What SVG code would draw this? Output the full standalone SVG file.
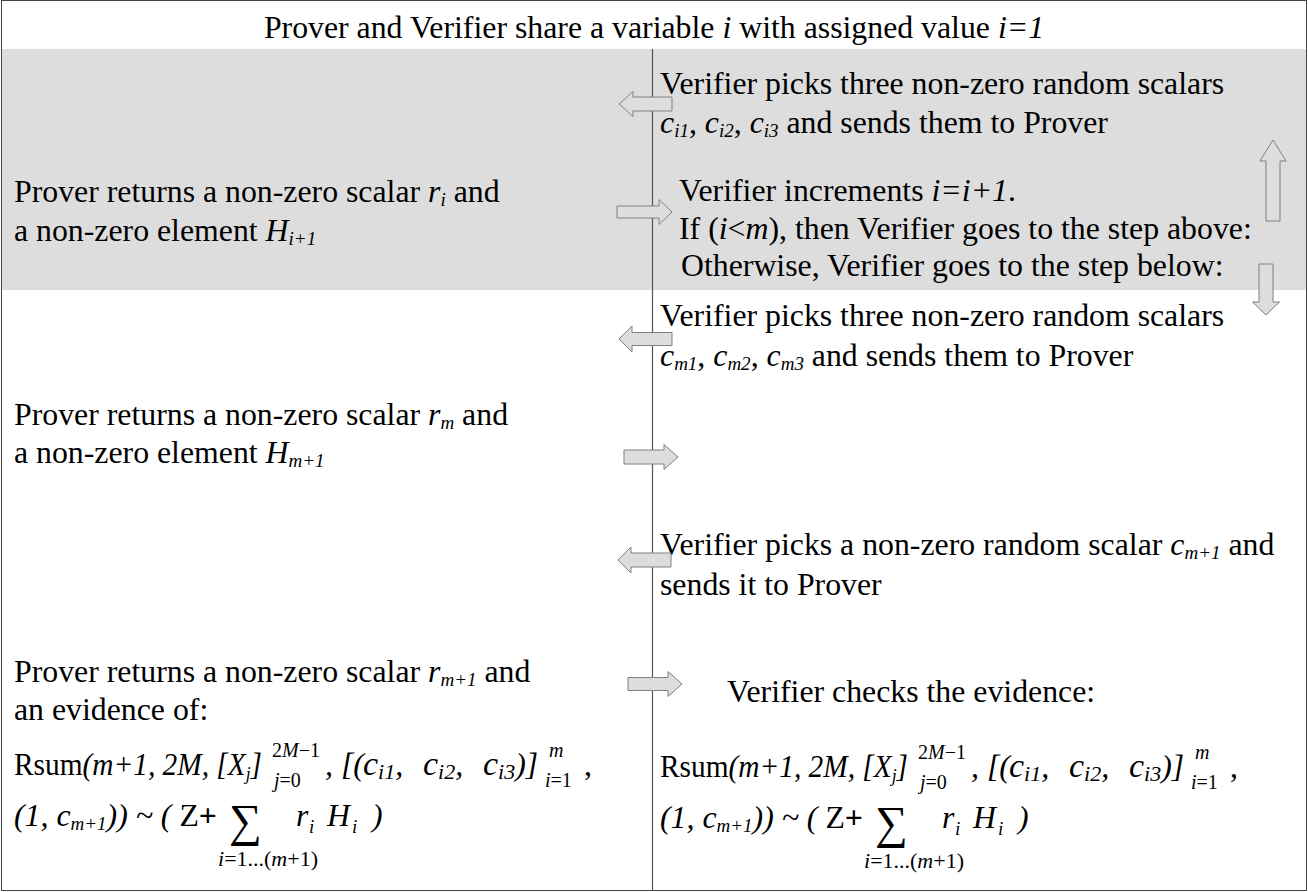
<svg xmlns="http://www.w3.org/2000/svg" width="1308" height="892" viewBox="0 0 1308 892">
<style>
text{font-family:"Liberation Serif","Times New Roman",serif;font-size:31.8px;fill:#000}
.i{font-style:italic}
.s{font-size:19px;font-style:italic}
.m{font-size:20px}
.lim{font-size:22px}
.c{font-size:34px;font-style:italic}
.cs{font-size:22px;font-style:italic}
.big{font-size:46px}
.b{font-weight:bold}
.arr{fill:#dddddd;stroke:#808080;stroke-width:1}
</style>
<rect x="0" y="0" width="1308" height="892" fill="#ffffff"/>
<rect id="band" x="2" y="49" width="1304" height="241" fill="#dddddd"/>
<rect id="frame" x="1.5" y="0.5" width="1305" height="890" fill="none" stroke="#444" stroke-width="1"/>
<line id="divider" x1="652.5" y1="49" x2="652.5" y2="891" stroke="#555" stroke-width="1.2"/>

<g id="header"><text x="654" y="38" text-anchor="middle">Prover and Verifier share a variable <tspan class="i">i</tspan> with assigned value <tspan class="i">i=1</tspan></text></g>

<g id="v1"><text x="660" y="94">Verifier picks three non-zero random scalars</text>
<text x="660" y="133"><tspan class="i">c</tspan><tspan class="s" dy="4">i1</tspan><tspan dy="-4">, </tspan><tspan class="i">c</tspan><tspan class="s" dy="4">i2</tspan><tspan dy="-4">, </tspan><tspan class="i">c</tspan><tspan class="s" dy="4">i3</tspan><tspan dy="-4"> and sends them to Prover</tspan></text></g>

<g id="p1"><text x="14" y="202">Prover returns a non-zero scalar <tspan class="i">r</tspan><tspan class="s" dy="4">i</tspan><tspan dy="-4"> and</tspan></text>
<text x="14" y="241">a non-zero element <tspan class="i">H</tspan><tspan class="s" dy="4">i+1</tspan></text></g>

<g id="v2"><text x="679" y="201">Verifier increments <tspan class="i">i=i+1</tspan>.</text>
<text x="679" y="239">If (<tspan class="i">i</tspan>&lt;<tspan class="i">m</tspan>), then Verifier goes to the step above:</text>
<text x="681" y="276">Otherwise, Verifier goes to the step below:</text></g>

<g id="v3"><text x="660" y="326">Verifier picks three non-zero random scalars</text>
<text x="660" y="366"><tspan class="i">c</tspan><tspan class="s" dy="4">m1</tspan><tspan dy="-4">, </tspan><tspan class="i">c</tspan><tspan class="s" dy="4">m2</tspan><tspan dy="-4">, </tspan><tspan class="i">c</tspan><tspan class="s" dy="4">m3</tspan><tspan dy="-4"> and sends them to Prover</tspan></text></g>

<g id="p2"><text x="14" y="425">Prover returns a non-zero scalar <tspan class="i">r</tspan><tspan class="s" dy="4">m</tspan><tspan dy="-4"> and</tspan></text>
<text x="14" y="463">a non-zero element <tspan class="i">H</tspan><tspan class="s" dy="4">m+1</tspan></text></g>

<g id="v4"><text x="660" y="555">Verifier picks a non-zero random scalar <tspan class="i">c</tspan><tspan class="s" dy="4">m+1</tspan><tspan dy="-4"> and</tspan></text>
<text x="660" y="595">sends it to Prover</text></g>

<g id="p3"><text x="14" y="682">Prover returns a non-zero scalar <tspan class="i">r</tspan><tspan class="s" dy="4">m+1</tspan><tspan dy="-4"> and</tspan></text>
<text x="14" y="720">an evidence of:</text></g>

<g id="v5"><text x="727" y="702">Verifier checks the evidence:</text></g>

<g id="formula-p" transform="translate(14,0)">
<text x="0" y="775" textLength="248" lengthAdjust="spacingAndGlyphs">Rsum<tspan class="i">(m+1, 2M, [X</tspan><tspan class="s" dy="5">j</tspan><tspan class="i" dy="-5">]</tspan></text>
<text class="m" x="258" y="757">2<tspan class="i">M</tspan>−1</text>
<text class="m" x="260" y="787"><tspan class="i">j</tspan>=0</text>
<text class="i" x="311" y="775">, [(</text>
<text x="349" y="775"><tspan class="c">c</tspan><tspan class="cs" dy="4">i1</tspan><tspan class="i" dy="-4">,</tspan></text>
<text x="409" y="775"><tspan class="c">c</tspan><tspan class="cs" dy="4">i2</tspan><tspan class="i" dy="-4">,</tspan></text>
<text x="469" y="775"><tspan class="c">c</tspan><tspan class="cs" dy="4">i3</tspan><tspan class="i" dy="-4">)]</tspan></text>
<text class="m" x="535" y="757"><tspan class="i">m</tspan></text>
<text class="m" x="531" y="787"><tspan class="i">i</tspan>=1</text>
<text x="570" y="775">,</text>
<text x="0" y="826"><tspan class="i">(1, c</tspan><tspan class="s" dy="4">m+1</tspan><tspan class="i" dy="-4">)) ~ ( </tspan>Z<tspan class="b">+</tspan></text>
<text class="big" x="215" y="836">∑</text>
<text class="lim" x="254" y="866" text-anchor="middle"><tspan class="i">i</tspan>=1...(<tspan class="i">m</tspan>+1)</text>
<text class="i" x="282" y="826">r</text>
<text class="s" x="295" y="833">i</text>
<text class="i" x="313" y="826">H</text>
<text class="s" x="338" y="833">i</text>
<text class="i" x="358" y="826">)</text>
</g>

<g id="formula-v" transform="translate(660,2)">
<text x="0" y="775" textLength="248" lengthAdjust="spacingAndGlyphs">Rsum<tspan class="i">(m+1, 2M, [X</tspan><tspan class="s" dy="5">j</tspan><tspan class="i" dy="-5">]</tspan></text>
<text class="m" x="258" y="757">2<tspan class="i">M</tspan>−1</text>
<text class="m" x="260" y="787"><tspan class="i">j</tspan>=0</text>
<text class="i" x="311" y="775">, [(</text>
<text x="349" y="775"><tspan class="c">c</tspan><tspan class="cs" dy="4">i1</tspan><tspan class="i" dy="-4">,</tspan></text>
<text x="409" y="775"><tspan class="c">c</tspan><tspan class="cs" dy="4">i2</tspan><tspan class="i" dy="-4">,</tspan></text>
<text x="469" y="775"><tspan class="c">c</tspan><tspan class="cs" dy="4">i3</tspan><tspan class="i" dy="-4">)]</tspan></text>
<text class="m" x="535" y="757"><tspan class="i">m</tspan></text>
<text class="m" x="531" y="787"><tspan class="i">i</tspan>=1</text>
<text x="570" y="775">,</text>
<text x="0" y="826"><tspan class="i">(1, c</tspan><tspan class="s" dy="4">m+1</tspan><tspan class="i" dy="-4">)) ~ ( </tspan>Z<tspan class="b">+</tspan></text>
<text class="big" x="215" y="836">∑</text>
<text class="lim" x="254" y="866" text-anchor="middle"><tspan class="i">i</tspan>=1...(<tspan class="i">m</tspan>+1)</text>
<text class="i" x="282" y="826">r</text>
<text class="s" x="295" y="833">i</text>
<text class="i" x="313" y="826">H</text>
<text class="s" x="338" y="833">i</text>
<text class="i" x="358" y="826">)</text>
</g>

<g id="connectors">
<polygon class="arr" points="619,104 633,91.5 633,97 672,97 672,111 633,111 633,116.5"/>
<polygon class="arr" points="672,212 659,199.5 659,206 617,206 617,218 659,218 659,224.5"/>
<polygon class="arr" points="1273,140 1286,161 1280,161 1280,221 1266,221 1266,161 1260,161"/>
<polygon class="arr" points="1259,264 1273,264 1273,302 1279.5,302 1266,315 1252.5,302 1259,302"/>
<polygon class="arr" points="619,339 632,326 632,332.5 672,332.5 672,345.5 632,345.5 632,352"/>
<polygon class="arr" points="678,457 664,444.5 664,450 624,450 624,464 664,464 664,469.5"/>
<polygon class="arr" points="618,560 631,547 631,553 671,553 671,567 631,567 631,573"/>
<polygon class="arr" points="682,684 668,671.5 668,677.5 628,677.5 628,690.5 668,690.5 668,696.5"/>
</g>
</svg>
